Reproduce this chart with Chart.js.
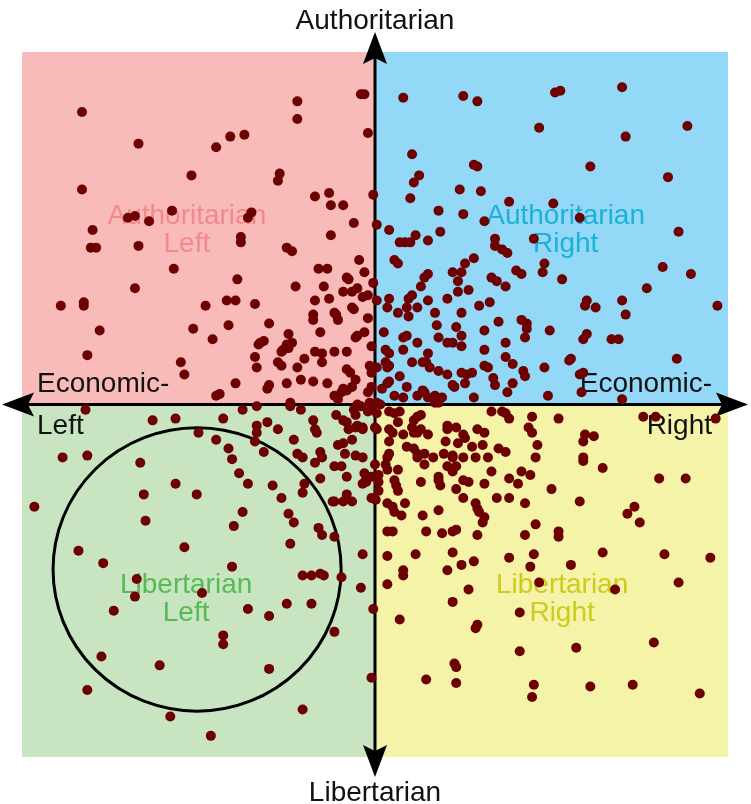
<!DOCTYPE html>
<html>
<head>
<meta charset="utf-8">
<title>Political compass</title>
<script src="https://cdn.jsdelivr.net/npm/chart.js@4.4.0/dist/chart.umd.min.js"></script>
<style>
  html, body { margin: 0; padding: 0; background: #fff; }
</style>
</head>
<body>
<canvas id="compass" width="751" height="804"></canvas>
<script>
// Respondents as [economic, social] on the -10..10 compass, grouped by the area of the chart they sit in

const nwPoints = [
  [-8.3,8.3],[-6.7,7.4],[-4.1,7.6],[-3.7,7.65],[-4.5,7.3],[-5.2,6.5],[-8.3,6.1],[-5.75,5.5],[-7.0,5.3],[-6.8,5.35],
  [-6.4,5.2],[-3.6,5.3],[-3.5,5.45],[-8.0,4.95],[-8.05,4.45],[-7.9,4.45],[-6.7,4.5],[-3.8,4.75],[-3.8,4.6],[-5.7,3.85],
  [-3.9,3.55],[-6.8,3.3]
];

const nPoints = [
  [-2.2,8.6],[-0.4,8.8],[-0.3,8.8],[-2.2,8.1],[-0.2,7.7],[0.8,8.7],[2.5,8.75],[2.9,8.6],[1.05,7.1],[2.8,6.8],
  [2.9,6.75],[-2.7,6.55],[-2.75,6.35],[1.25,6.5],[1.1,6.3],[2.4,6.1],[3.0,6.05],[-1.7,5.9],[-1.3,6.0],[-1.25,5.65],
  [-0.9,5.65],[-0.05,5.95],[1.0,5.85],[1.8,5.5],[2.5,5.4],[-0.6,5.15],[0.05,5.1],[0.4,4.95],[3.1,5.2],[-1.25,4.8],
  [1.15,4.8],[1.85,4.9],[0.7,4.6],[0.85,4.6],[1.0,4.6],[1.5,4.65],[3.4,4.7],[3.4,4.5],[-2.5,4.45],[-2.35,4.35],
  [-0.45,4.1],[0.55,4.1],[0.65,4.0],[2.8,4.15],[2.55,4.0],[-1.6,3.85],[-1.35,3.85],[-0.3,3.75],[2.2,3.75],[2.45,3.75],
  [2.35,3.5],[1.5,3.7],[1.4,3.6],[-0.8,3.6],[-0.75,3.55],[3.3,3.6],[3.45,3.5],[3.7,3.35],[-2.25,3.35],[-1.45,3.35],
  [-0.05,3.45],[1.3,3.35],[2.65,3.25]
];

const nePoints = [
  [5.1,8.85],[5.25,8.9],[7.0,9.0],[4.65,7.85],[7.1,7.6],[8.85,7.9],[6.1,6.75],[8.3,6.45],[3.8,5.75],[5.05,5.7],
  [5.8,5.3],[8.6,4.9],[4.5,4.7],[3.6,4.4],[3.75,4.3],[4.8,4.0],[4.75,3.75],[4.0,3.8],[4.15,3.7],[5.3,3.55],
  [8.15,3.9],[8.95,3.7],[7.7,3.3]
];

const wPoints = [
  [-8.9,2.8],[-8.25,2.9],[-8.25,2.8],[-4.8,2.8],[-4.2,2.95],[-3.95,2.95],[-3.4,2.85],[-7.8,2.1],[-5.15,2.15],[-4.15,2.25],
  [-4.6,1.85],[-8.15,1.4],[-5.5,1.2],[-5.4,0.85],[-3.4,1.35],[-3.35,1.05],[-3.3,1.7],[-3.95,0.6],[-4.5,0.25],[-4.4,0.3],
  [-8.2,-0.15],[-3.35,-0.05],[-3.75,-0.15],[-6.3,-0.45],[-5.65,-0.4],[-4.3,-0.4],[-5.0,-0.8],[-4.5,-1.0],[-4.15,-1.25],[-3.35,-0.6],
  [-3.35,-0.8],[-3.4,-1.05],[-8.85,-1.5],[-8.15,-1.45],[-6.65,-1.65],[-4.05,-1.55],[-3.85,-1.95],[-3.6,-2.25],[-5.65,-2.25],[-6.55,-2.55],
  [-5.05,-2.55],[-9.65,-2.9],[-3.75,-3.05]
];

const ePoints = [
  [3.25,2.9],[6.0,2.95],[5.95,2.8],[6.25,2.75],[7.0,2.95],[7.1,2.55],[9.7,2.8],[3.5,2.35],[4.15,2.4],[4.3,2.3],
  [4.3,2.15],[4.25,1.9],[4.95,2.1],[6.0,2.0],[5.9,1.85],[6.7,1.85],[6.9,1.85],[3.7,1.75],[3.7,1.35],[3.9,1.15],
  [4.2,0.95],[4.25,0.8],[4.8,1.05],[5.55,1.3],[5.5,1.25],[8.55,1.3],[5.8,0.85],[5.9,0.9],[3.35,0.75],[3.4,0.55],
  [3.9,0.6],[3.75,0.35],[4.9,0.25],[5.85,0.35],[7.0,0.15],[3.3,-0.2],[3.6,-0.2],[3.7,-0.25],[3.8,-0.4],[4.45,-0.35],
  [5.2,-0.4],[7.6,-0.35],[7.95,-0.35],[9.65,-0.4],[4.35,-0.65],[4.45,-0.8],[5.95,-0.85],[5.9,-1.05],[6.2,-0.9],[4.6,-1.15],
  [3.5,-1.25],[3.7,-1.35],[4.55,-1.5],[5.9,-1.5],[5.9,-1.6],[6.45,-1.8],[3.3,-1.9],[4.15,-1.9],[4.4,-2.0],[3.8,-2.1],
  [4.05,-2.25],[8.05,-2.1],[8.8,-2.1],[5.0,-2.4],[3.45,-2.65],[3.8,-2.65],[4.25,-2.8],[5.8,-2.75],[7.35,-2.9],[7.15,-3.1],
  [4.55,-3.4],[7.5,-3.35]
];

const swPoints = [
  [-6.5,-3.3],[-4.0,-3.45],[-8.4,-4.15],[-5.4,-4.05],[-7.7,-4.5],[-4.05,-4.6],[-6.75,-4.95],[-6.8,-5.45],[-4.9,-5.35],[-7.4,-5.85],
  [-3.6,-5.8],[-4.3,-6.55],[-4.3,-6.8],[-7.75,-7.15],[-6.1,-7.4],[-8.15,-8.1],[-5.8,-8.85],[-4.65,-9.4]
];

const sPoints = [
  [-2.3,-3.35],[-1.6,-3.5],[-1.5,-3.7],[-1.15,-3.75],[-2.4,-3.95],[-0.35,-4.25],[-2.05,-4.85],[-1.8,-4.85],[-1.55,-4.8],[-1.45,-4.85],
  [-0.95,-4.9],[-0.4,-5.2],[-2.5,-5.65],[-1.8,-5.65],[-3.0,-6.0],[-1.15,-6.45],[-0.05,-5.8],[-3.0,-7.5],[-0.1,-7.75],[-2.05,-8.65],
  [0.35,-3.6],[0.5,-3.6],[1.45,-3.6],[1.9,-3.65],[2.2,-3.6],[2.3,-3.55],[2.9,-3.7],[0.35,-4.3],[1.15,-4.25],[2.2,-4.2],
  [0.8,-4.7],[0.8,-4.85],[2.05,-4.7],[2.45,-4.55],[2.8,-4.45],[0.35,-5.1],[2.65,-5.25],[2.2,-5.6],[0.7,-6.1],[2.85,-6.35],
  [2.9,-6.25],[2.25,-7.35],[2.3,-7.45],[1.45,-7.8],[2.3,-7.9]
];

const sePoints = [
  [4.25,-3.7],[5.2,-3.6],[5.2,-3.75],[3.8,-4.35],[4.5,-4.25],[4.4,-4.6],[6.45,-4.2],[8.2,-4.25],[9.5,-4.35],[5.55,-4.55],
  [4.65,-5.05],[6.8,-5.25],[8.6,-5.05],[4.1,-5.9],[5.7,-6.9],[4.1,-7.0],[7.9,-6.75],[4.5,-7.95],[4.45,-8.3],[6.1,-8.0],
  [7.3,-7.95],[9.2,-8.2]
];

const ringPoints = [
  [-0.9,3.2],[-0.65,3.2],[-0.5,3.3],[-0.35,3.05],[-0.2,3.1],[0.05,2.95],[0.4,3.0],[0.95,3.0],[1.05,3.1],[0.9,2.75],
  [1.5,2.95],[2.05,3.0],[2.35,3.2],[2.95,2.8],[-1.7,2.95],[-1.3,3.0],[0.35,2.75],[0.65,2.6],[0.95,2.5],[1.2,2.75],
  [1.7,2.6],[2.45,2.6],[-1.75,2.55],[-1.75,2.4],[-1.15,2.6],[-1.1,2.55],[-1.05,2.4],[-0.65,2.75],[-0.6,2.7],[-3.0,2.3],
  [-0.2,2.45],[1.75,2.25],[2.3,2.2],[1.8,1.9],[2.45,1.95],[3.1,2.1],[-3.25,1.75],[-3.15,1.8],[-2.45,2.0],[-2.5,1.7],
  [-2.45,1.6],[-2.35,1.75],[-2.6,1.55],[-2.65,1.5],[2.05,1.75],[2.2,1.75],[2.45,1.65],[3.1,1.55],[-2.75,1.2],[-2.65,1.1],
  [-2.2,1.05],[-2.0,1.3],[1.8,0.95],[2.05,0.85],[2.45,0.9],[2.6,0.85],[2.75,0.9],[3.1,1.1],[3.2,1.05],[1.9,0.2],
  [2.2,0.55],[2.25,0.5],[2.55,0.6],[2.8,0.2],[-3.0,0.55],[-3.05,0.45],[-2.5,0.6],[-2.1,0.7],[-2.4,0.05],[-2.4,-0.05],
  [-2.1,-0.15],[-3.05,-0.5],[-2.75,-0.7],[-2.3,-1.0],[-3.15,-1.35],[-2.2,-1.4],[-2.05,-1.5],[-1.55,-2.1],[-0.35,-2.25],[-0.25,-2.2],
  [-2.9,-2.3],[-2.0,-2.25],[-2.05,-2.5],[-2.65,-2.65],[-1.2,-2.75],[-1.15,-2.75],[-0.9,-2.75],[-0.65,-2.75],[-0.8,-2.55],[-0.1,-2.65],
  [0.02,-2.7],[-2.45,-3.1],[2.05,-0.6],[2.05,-0.7],[2.3,-0.65],[2.5,-0.85],[2.55,-0.95],[2.9,-0.7],[3.1,-0.8],[2.0,-1.05],
  [2.35,-1.1],[2.75,-1.2],[3.05,-1.15],[1.95,-1.4],[2.2,-1.45],[2.2,-1.5],[2.5,-1.5],[2.85,-1.5],[3.2,-1.5],[2.05,-1.75],
  [2.2,-1.9],[2.3,-1.75],[0.1,-2.2],[0.1,-2.45],[0.55,-2.15],[0.6,-2.3],[0.65,-2.45],[1.3,-2.2],[1.8,-2.15],[1.85,-2.3],
  [2.3,-2.4],[2.5,-2.15],[2.65,-2.2],[3.1,-2.25],[0.35,-2.8],[0.5,-2.9],[0.55,-3.05],[0.75,-3.15],[0.85,-2.8],[1.35,-3.15],
  [2.5,-2.65],[2.85,-2.8],[2.9,-2.95],[2.95,-3.05],[3.1,-3.2],[3.05,-3.35],[1.8,-3.0]
];

const corePoints = [
  [-1.55,2.05],[-0.55,1.9],[-0.5,1.95],[-0.3,2.05],[-1.7,1.5],[-1.5,1.45],[-1.15,1.5],[-0.8,1.5],[-1.5,1.2],[-0.8,1.0],
  [-0.7,0.9],[-0.55,0.7],[-0.1,1.65],[-0.15,1.1],[0.05,1.05],[-0.1,0.9],[-1.75,0.65],[-1.35,0.6],[-0.9,0.45],[-0.8,0.4],
  [-0.65,0.5],[-0.95,0.35],[-1.15,0.25],[-1.05,0.15],[-0.2,0.35],[-0.1,0.5],[0.25,2.05],[0.3,1.55],[0.4,1.45],[0.3,1.2],
  [0.4,1.1],[0.35,1.05],[0.8,1.9],[0.9,1.95],[1.2,1.75],[0.8,1.55],[1.5,1.45],[1.35,1.2],[1.45,1.2],[1.55,1.05],
  [1.05,1.2],[0.7,0.8],[0.35,0.6],[0.4,0.65],[0.9,0.5],[0.55,0.25],[0.8,0.2],[0.2,0.45],[1.35,0.4],[1.4,0.35],
  [1.5,0.2],[1.2,0.25],[1.7,0.25],[1.7,0.05],[1.8,0.05],[0.05,0.05],[0.15,0.0],[-0.15,0.05],[-0.5,0.0],[-0.4,-0.05],
  [-0.6,-0.15],[-0.55,-0.3],[-0.2,-0.2],[-0.1,-0.15],[0.05,-0.25],[-1.1,-0.3],[-0.9,-0.45],[-0.8,-0.5],[-0.75,-0.7],[-0.55,-0.65],
  [-0.5,-0.6],[-0.35,-0.65],[-0.35,-0.7],[-1.75,-0.45],[0.0,-0.65],[0.05,-0.7],[0.4,-0.2],[0.55,-0.25],[0.7,-0.2],[0.65,-0.5],
  [0.4,-0.7],[0.5,-0.8],[1.1,-0.45],[1.2,-0.35],[1.3,-0.3],[1.05,-0.65],[1.1,-0.8],[1.2,-0.8],[1.3,-0.7],[1.5,-0.85],
  [0.8,-0.85],[-1.7,-0.7],[-1.65,-0.8],[-0.65,-1.0],[-1.05,-1.15],[-0.9,-1.1],[-1.55,-1.35],[-1.5,-1.5],[-0.85,-1.4],[-0.55,-1.45],
  [-0.35,-1.5],[0.0,-1.7],[0.4,-1.05],[0.4,-1.4],[0.35,-1.5],[0.9,-1.2],[1.1,-1.25],[1.2,-1.4],[1.2,-1.5],[1.4,-1.4],
  [1.65,-1.5],[-1.15,-1.75],[-0.95,-1.75],[-1.7,-1.65],[0.3,-1.7],[0.35,-1.85],[0.65,-1.85],[1.4,-1.7],[-0.8,-2.05],[-0.3,-1.95],
  [-0.1,-2.05],[-0.25,-2.1],[0.1,-2.0],[1.8,-2.05]
];

// quadrant names and axis titles
const quadrantNames = [
  ['Authoritarian', 'Left'],
  ['Authoritarian', 'Right'],
  ['Libertarian', 'Left'],
  ['Libertarian', 'Right']
];
const axisTitles = { top: 'Authoritarian', bottom: 'Libertarian', left: ['Economic-', 'Left'], right: ['Economic-', 'Right'] };

// styling (kept apart from the data)
const quadrantFill = ['#f9baba', '#93d8f6', '#c8e4c0', '#f5f3a8'];
const quadrantInk  = ['#f3898f', '#1cb0da', '#56bb55', '#cdcc1c'];
const quadrantAnchor = [[-5.33, 5.12], [5.4, 5.12], [-5.35, -5.35], [5.3, -5.35]];
const ringShape = { cx: -5.04, cy: -4.68, rx: 4.08, ry: 4.02 };
const dotColor = '#6d0000';
const labelFont = '28px "Liberation Sans", Arial, sans-serif';

const allPoints = [].concat(nwPoints, nPoints, nePoints, wPoints, ePoints,
                            swPoints, sPoints, sePoints, ringPoints, corePoints);

// draws quadrants, names, the circle and the arrowed axes under the dots
const compassBackdrop = {
  id: 'compassBackdrop',
  beforeDatasetsDraw(chart) {
    const { ctx, chartArea: a, scales: { x, y } } = chart;
    const cx = x.getPixelForValue(0);
    const cy = y.getPixelForValue(0);
    ctx.save();

    // 1) quadrant backgrounds
    const boxes = [
      [a.left, a.top, cx - a.left, cy - a.top],
      [cx, a.top, a.right - cx, cy - a.top],
      [a.left, cy, cx - a.left, a.bottom - cy],
      [cx, cy, a.right - cx, a.bottom - cy]
    ];
    boxes.forEach((b, i) => {
      ctx.fillStyle = quadrantFill[i];
      ctx.fillRect(b[0], b[1], b[2], b[3]);
    });

    // 2) quadrant names
    ctx.font = labelFont;
    ctx.textAlign = 'center';
    ctx.textBaseline = 'alphabetic';
    quadrantNames.forEach((lines, i) => {
      const px = x.getPixelForValue(quadrantAnchor[i][0]);
      const py = y.getPixelForValue(quadrantAnchor[i][1]);
      ctx.fillStyle = quadrantInk[i];
      lines.forEach((t, k) => ctx.fillText(t, px, py + k * 28));
    });

    // 3) the circle round the libertarian left
    const ex = x.getPixelForValue(ringShape.cx);
    const ey = y.getPixelForValue(ringShape.cy);
    const erx = x.getPixelForValue(ringShape.cx + ringShape.rx) - ex;
    const ery = ey - y.getPixelForValue(ringShape.cy + ringShape.ry);
    ctx.beginPath();
    ctx.ellipse(ex, ey, erx, ery, 0, 0, Math.PI * 2);
    ctx.lineWidth = 3;
    ctx.strokeStyle = '#000';
    ctx.stroke();

    // 4) axes
    ctx.beginPath();
    ctx.moveTo(cx, a.top + 5);
    ctx.lineTo(cx, a.bottom - 5);
    ctx.moveTo(a.left + 5, cy);
    ctx.lineTo(a.right - 5, cy);
    ctx.lineWidth = 3;
    ctx.stroke();

    // arrow heads: tip, side, notch, side
    ctx.fillStyle = '#000';
    const head = (tx, ty, dx, dy) => {
      // dx,dy = unit vector pointing outwards
      const nx = -dy, ny = dx;
      ctx.beginPath();
      ctx.moveTo(tx, ty);
      ctx.lineTo(tx - dx * 32 + nx * 12, ty - dy * 32 + ny * 12);
      ctx.lineTo(tx - dx * 26, ty - dy * 26);
      ctx.lineTo(tx - dx * 32 - nx * 12, ty - dy * 32 - ny * 12);
      ctx.closePath();
      ctx.fill();
    };
    head(cx, a.top - 20, 0, -1);
    head(cx, a.bottom + 20, 0, 1);
    head(a.left - 20, cy, -1, 0);
    head(a.right + 20, cy, 1, 0);

    // 5) axis titles
    ctx.fillStyle = '#111';
    ctx.textAlign = 'center';
    ctx.fillText(axisTitles.top, cx, a.top - 23);
    ctx.fillText(axisTitles.bottom, cx, a.bottom + 44);
    ctx.textAlign = 'left';
    ctx.fillText(axisTitles.left[0], a.left + 15, cy - 13);
    ctx.fillText(axisTitles.left[1], a.left + 15, cy + 29);
    ctx.textAlign = 'right';
    ctx.fillText(axisTitles.right[0], a.right - 16, cy - 13);
    ctx.fillText(axisTitles.right[1], a.right - 16, cy + 29);

    ctx.restore();
  }
};

new Chart(document.getElementById('compass'), {
  type: 'scatter',
  data: {
    datasets: [{
      label: 'Respondents',
      data: allPoints.map(p => ({ x: p[0], y: p[1] })),
      pointRadius: 5,
      pointHoverRadius: 5,
      pointBorderWidth: 0,
      pointBackgroundColor: dotColor,
      clip: false
    }]
  },
  options: {
    responsive: false,
    animation: false,
    events: [],
    layout: { autoPadding: false, padding: { left: 22, right: 23, top: 52, bottom: 47 } },
    scales: {
      x: { type: 'linear', min: -10, max: 10, display: false },
      y: { type: 'linear', min: -10, max: 10, display: false }
    },
    plugins: {
      legend: { display: false },
      tooltip: { enabled: false }
    }
  },
  plugins: [compassBackdrop]
});
</script>
</body>
</html>
